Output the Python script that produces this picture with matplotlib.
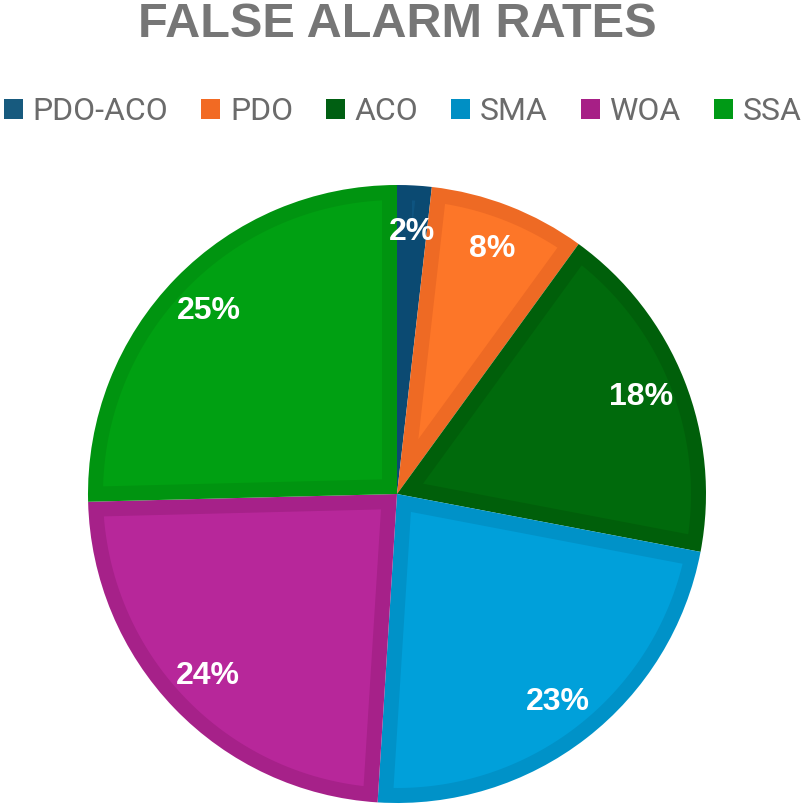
import matplotlib
matplotlib.use("Agg")
import numpy as np
import matplotlib.pyplot as plt
from matplotlib.patches import Patch, Polygon

categories = ["PDO-ACO", "PDO", "ACO", "SMA", "WOA", "SSA"]
values = [1.8, 8.2, 18.0, 23.0, 23.6, 25.4]
inner_colors = ["#0E5480", "#FD7628", "#006A0C", "#00A0DA", "#B7279A", "#00A012"]
band_colors = ["#0B4A72", "#EE6A24", "#005F0A", "#0092C8", "#A62189", "#009410"]
legend_colors = ["#175A7E", "#F26A23", "#005F12", "#008FC4", "#A71F86", "#009A16"]
title = "FALSE ALARM RATES"

plt.rcParams['font.family'] = ['Liberation Sans', 'DejaVu Sans']

W, H = 805, 809
fig = plt.figure(figsize=(W / 100, H / 100), dpi=100)
cx, cy, r = 397, 494, 309
ax = fig.add_axes([(cx - r) / W, 1 - (cy + r) / H, 2 * r / W, 2 * r / H])

wedges, texts, autotexts = ax.pie(
    values, colors=band_colors, startangle=90, counterclock=False,
    autopct=lambda p: f"{p:.0f}%", pctdistance=0.85,
    textprops=dict(color="white", fontsize=23, fontweight="bold"),
    wedgeprops=dict(linewidth=0))

d = 15 / r  # band width in data units (radius = 1)
for w, ic in zip(wedges, inner_colors):
    t1, t2 = np.radians(w.theta1), np.radians(w.theta2)
    half = (t2 - t1) / 2
    rho = w.r - d
    vdist = d / np.sin(half)
    a = np.arcsin(d / rho)
    if vdist >= rho * 0.98 or t2 - a <= t1 + a:
        continue
    mid = (t1 + t2) / 2
    V = (vdist * np.cos(mid), vdist * np.sin(mid))
    ang = np.linspace(t1 + a, t2 - a, 100)
    pts = [V] + list(zip(rho * np.cos(ang), rho * np.sin(ang)))
    poly = Polygon(pts, closed=True, facecolor=ic, edgecolor="none", zorder=w.get_zorder() + 0.1)
    ax.add_patch(poly)
for t in autotexts:
    t.set_zorder(5)

ax.set_xlim(-1, 1)
ax.set_ylim(-1, 1)
ax.set_aspect("equal")

fig.text(0.493, 1 - 37 / H, title, ha="center", va="baseline", fontsize=35,
         fontweight="bold", color="#767676")

handles = [Patch(facecolor=c, edgecolor="none") for c in legend_colors]
leg = fig.legend(handles, categories, loc="center", bbox_to_anchor=(0.5, 1 - 112 / H),
                 ncol=6, frameon=False, prop=dict(family=["Roboto", "DejaVu Sans"], size=23),
                 handlelength=0.6, handleheight=0.6,
                 handletextpad=0.3, columnspacing=1.03, labelcolor="#6b6b6b")

fig.savefig("out.png", dpi=100, facecolor="white")
